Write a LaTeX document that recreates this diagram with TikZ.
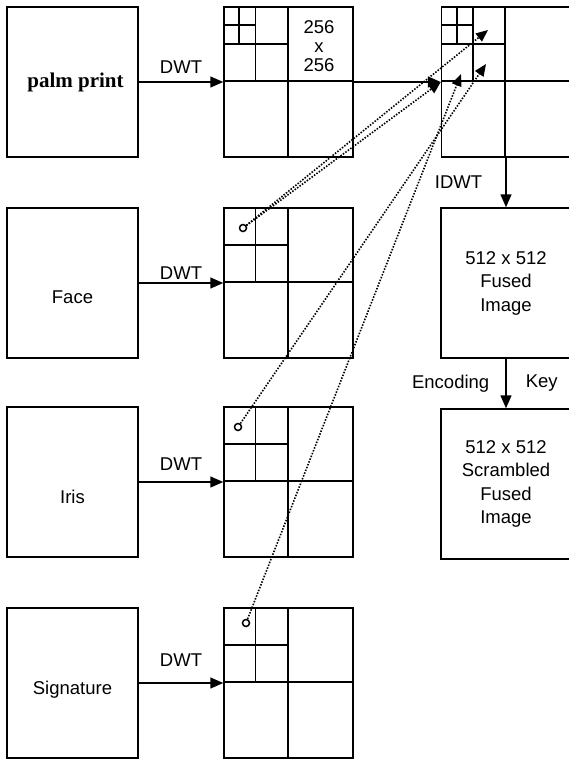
\documentclass[tikz,border=0pt]{standalone}
\usepackage{fontspec}
\setmainfont{Liberation Sans}
\newfontfamily\palmfont{Liberation Serif}
\usetikzlibrary{positioning, arrows.meta}

\begin{document}
\begin{tikzpicture}[
    x=1pt, y=-1pt,
    srcbox/.style={draw, line width=1.5pt, minimum width=131pt,
      minimum height=150pt, inner sep=0pt},
    subband/.style={draw, line width=1.5pt, minimum width=129pt,
      minimum height=150pt, inner sep=0pt},
    outbox/.style={draw, line width=1.5pt, minimum width=130pt,
      minimum height=150pt, inner sep=0pt, align=center,
      font=\fontsize{18.5}{23.5}\selectfont},
    lbl/.style={font=\fontsize{18.5}{22}\selectfont, inner sep=2pt},
    flow/.style={-{Triangle[length=13pt,width=11pt]}, line width=1.5pt},
    pick/.style={-{Triangle[length=12pt,width=10pt]}, line width=1.6pt,
      dash pattern=on 1.5pt off 1.5pt},
    coef/.style={circle, draw, line width=1.5pt, minimum size=7pt,
      inner sep=0pt}
  ]
    \useasboundingbox (0,0) rectangle (568,760);

    % source images
    \node[srcbox] (palm) at (72.5,82)  {};
    \node[srcbox] (face) at (72.5,283) {};
    \node[srcbox] (iris) at (72.5,482) {};
    \node[srcbox] (sign) at (72.5,683) {};
    \node[lbl, font=\fontsize{21}{24}\selectfont\palmfont\bfseries] (palmT)
      at ([xshift=3pt]palm.center) {palm print};
    \node[lbl] (faceT) at ([yshift=-14pt]face.center) {Face};
    \node[lbl] (irisT) at ([yshift=-15pt]iris.center) {Iris};
    \node[lbl] (signT) at ([yshift=-7pt]sign.center) {Signature};

    % decomposed images
    \node[subband] (gP) at (288.5,82)  {};
    \node[subband] (gF) at (288.5,283) {};
    \node[subband] (gI) at (288.5,482) {};
    \node[subband] (gS) at (288.5,683) {};
    \node[subband] (gR) at (506,82)    {};

    \foreach \g in {gP,gF,gI,gS,gR} {
      \begin{scope}[shift={(\g.north west)}, line width=1.9pt]
        \draw (64.5,0) -- (64.5,150) (0,75) -- (129,75);
        \draw (32.25,0) -- (32.25,75) (0,37.5) -- (64.5,37.5);
      \end{scope}
    }
    \foreach \g in {gP,gR} {
      \begin{scope}[shift={(\g.north west)}, line width=1.9pt]
        \draw (16.1,0) -- (16.1,37.5) (0,18.75) -- (32.25,18.75);
      \end{scope}
    }
    \node[lbl, align=center, font=\fontsize{18.5}{19}\selectfont] (sizeT)
      at (319,46) {256\\x\\256};

    % fused and scrambled images
    \node[outbox] (fused) at (506,283) {512 x 512\\Fused\\Image};
    \node[outbox] (scram) at (506,484) {512 x 512\\Scrambled\\Fused\\Image};

    \draw[flow] (palm) -- node[lbl, above=6pt] (dwtP) {DWT} (gP);
    \draw[flow] (face) -- node[lbl, above=1pt] (dwtF) {DWT} (gF);
    \draw[flow] (iris) -- node[lbl, above=9pt] (dwtI) {DWT} (gI);
    \draw[flow] (sign) -- node[lbl, above=14pt] (dwtS) {DWT} (gS);
    \draw[flow] (gP) -- (gR);
    \draw[flow] (gR.south) -- node[lbl, left=21pt] (idwt) {IDWT} (fused.north);
    \draw[flow] (fused) -- node[lbl, left=14pt] (enc) {Encoding}
      node[lbl, right=17pt] (key) {Key} (scram);

    % selected coefficients
    \node[coef] (cF) at (243,228) {};
    \node[coef] (cI) at (238,427) {};
    \node[coef] (cS) at (246,623) {};
    \coordinate (tHL) at (488,30);
    \coordinate (tHH) at (486,64);
    \coordinate (tLH) at (461,74);

    \draw[pick] (cF) -- (gR.west);
    \draw[pick] (cF) -- (tHL);
    \draw[pick] (cI) -- (tHH);
    \draw[pick] (cS) -- (tLH);
  \end{tikzpicture}
\end{document}
